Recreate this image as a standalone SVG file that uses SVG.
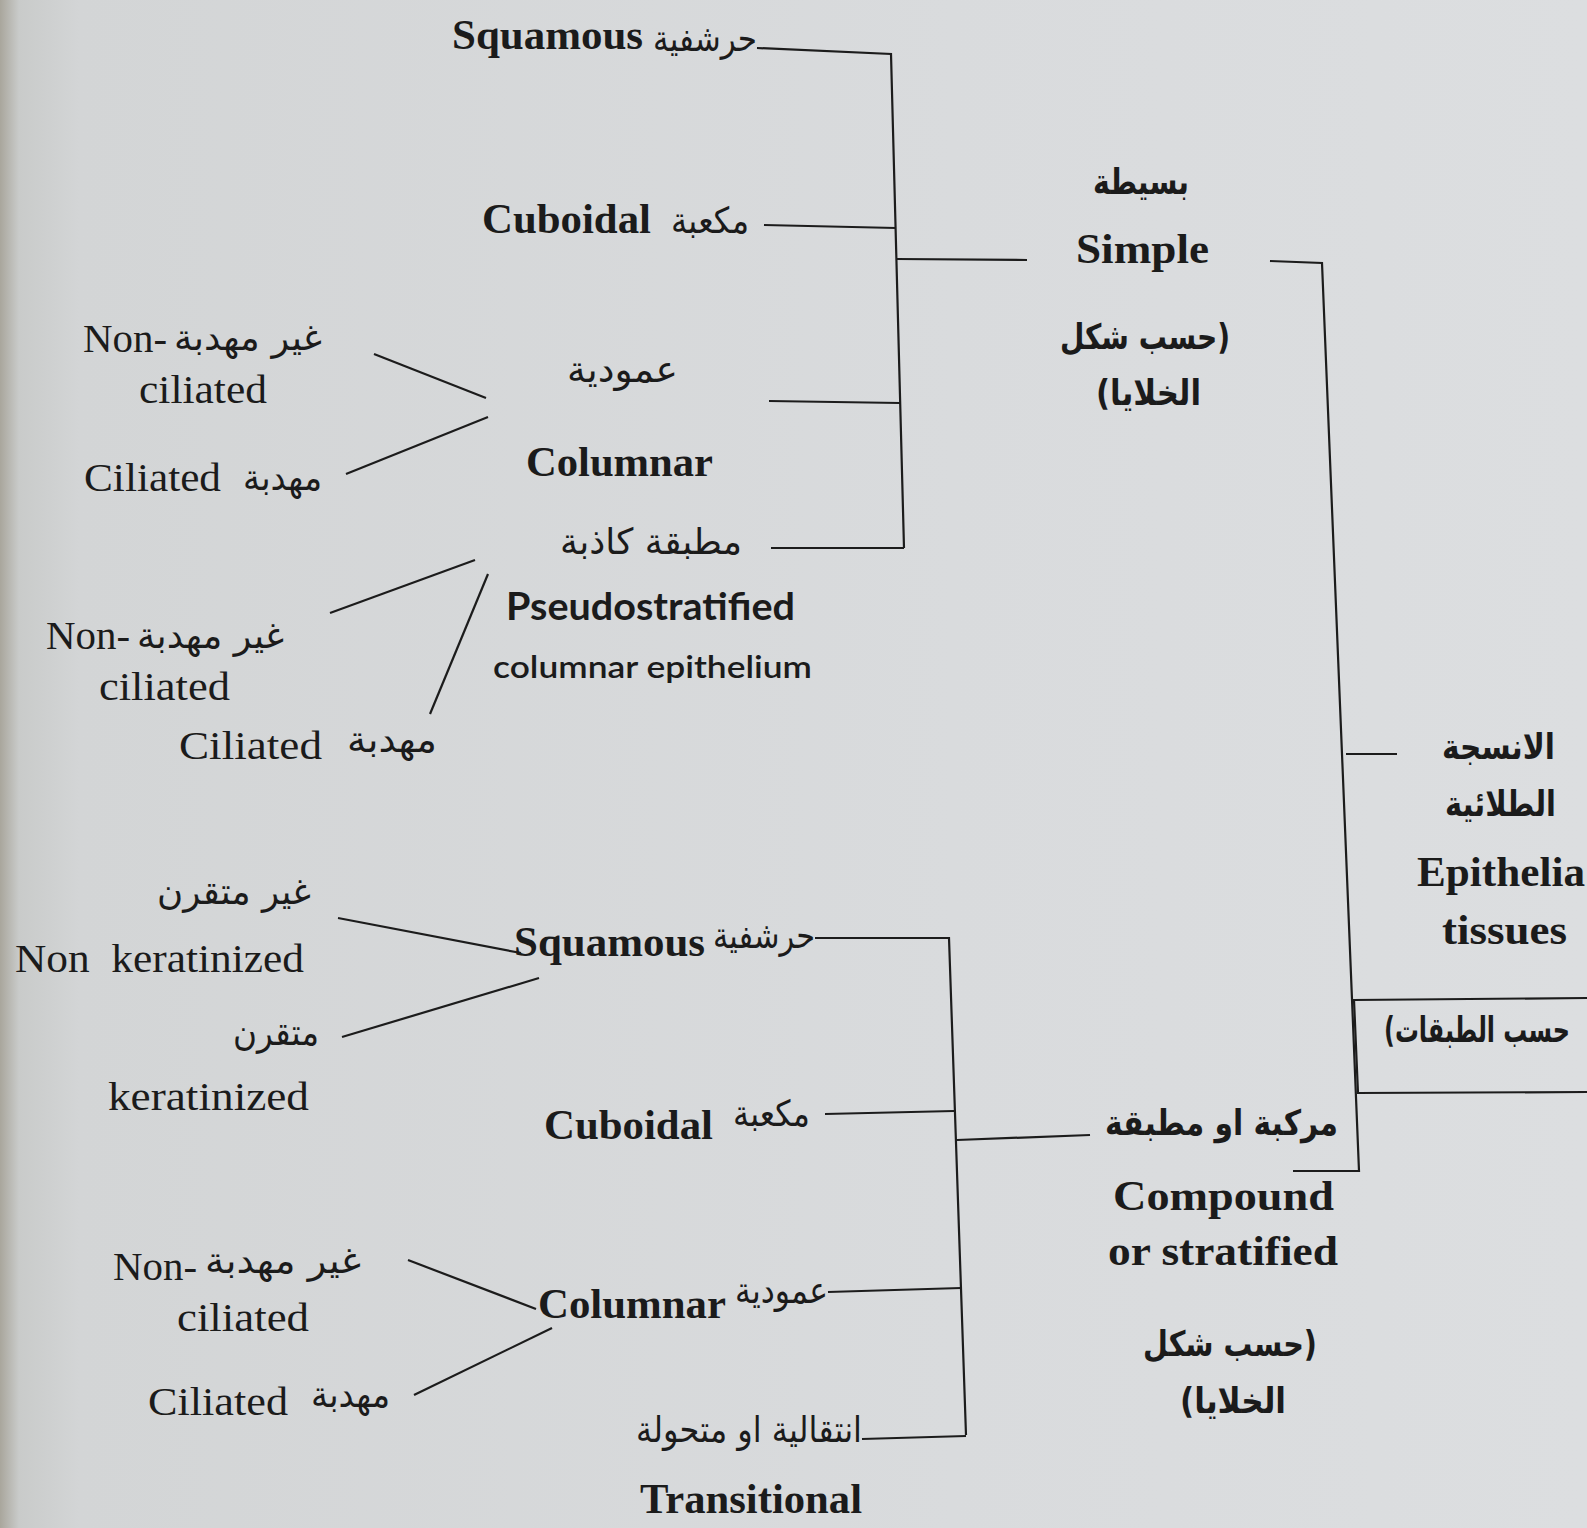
<svg xmlns="http://www.w3.org/2000/svg" width="1587" height="1528" viewBox="0 0 1587 1528">
<defs>
<linearGradient id="paper" x1="0" y1="0" x2="1" y2="0">
<stop offset="0" stop-color="#a9a69c"/>
<stop offset="0.012" stop-color="#c9cbca"/>
<stop offset="0.05" stop-color="#d3d5d6"/>
<stop offset="0.6" stop-color="#d9dbdd"/>
<stop offset="1" stop-color="#dcdee0"/>
</linearGradient>
<style>
text{fill:#1b1b1b}
.eb{font-family:"Liberation Serif",serif;font-weight:700;font-size:43px}
.en{font-family:"Liberation Serif",serif;font-size:41px}
.ar{font-family:"DejaVu Sans",sans-serif;font-size:36px}
.arb{font-family:"DejaVu Sans",sans-serif;font-weight:700;font-size:35px}
.sb{font-family:Lato,"Liberation Sans",sans-serif;font-weight:700;font-size:38px}
.sr{font-family:Lato,"Liberation Sans",sans-serif;font-weight:600;font-size:31px}
.ln{stroke:#1c1c1c;stroke-width:2.2;fill:none}
</style>
</defs>
<rect width="1587" height="1528" fill="url(#paper)"/>

<g id="connectors" class="ln">
<path d="M757,48 L891,54 L904,548"/>
<path d="M764,225 L896,228"/>
<path d="M897,259 L1027,260"/>
<path d="M769,401 L900,403"/>
<path d="M771,548 L904,548"/>
<path d="M374,354 L486,398"/>
<path d="M346,474 L488,417"/>
<path d="M330,613 L475,560"/>
<path d="M430,714 L488,574"/>
<path d="M1270,261 L1322,263 L1359,1171 L1293,1171"/>
<path d="M1346,754 L1397,754"/>
<path d="M338,918 L521,953"/>
<path d="M342,1037 L539,978"/>
<path d="M815,938 L949,938 L966,1435"/>
<path d="M825,1114 L954,1111"/>
<path d="M957,1140 L1090,1135"/>
<path d="M828,1292 L961,1288"/>
<path d="M862,1439 L966,1436"/>
<path d="M408,1260 L536,1309"/>
<path d="M414,1395 L552,1328"/>
</g>

<g id="layers-box" class="ln">
<path d="M1587,998 L1354,1000 L1358,1093 L1587,1092"/>
</g>

<g id="squamous-simple">
<text class="eb" x="452" y="49" textLength="191" lengthAdjust="spacingAndGlyphs">Squamous</text>
<text class="ar" x="653" y="51" textLength="104" lengthAdjust="spacingAndGlyphs">حرشفية</text>
</g>
<g id="cuboidal-simple">
<text class="eb" x="482" y="233" textLength="169" lengthAdjust="spacingAndGlyphs">Cuboidal</text>
<text class="ar" x="671" y="233" textLength="78" lengthAdjust="spacingAndGlyphs">مكعبة</text>
</g>
<g id="columnar-simple">
<text class="ar" x="567" y="382" textLength="111" lengthAdjust="spacingAndGlyphs">عمودية</text>
<text class="eb" x="526" y="476" textLength="187" lengthAdjust="spacingAndGlyphs">Columnar</text>
</g>
<g id="pseudostratified">
<text class="ar" x="560" y="554" textLength="182" lengthAdjust="spacingAndGlyphs">مطبقة كاذبة</text>
<text class="sb" x="506" y="620" textLength="289" lengthAdjust="spacingAndGlyphs">Pseudostratified</text>
<text class="sr" x="493" y="678" textLength="319" lengthAdjust="spacingAndGlyphs">columnar epithelium</text>
</g>

<g id="nonciliated-1">
<text class="en" x="83" y="352" textLength="84" lengthAdjust="spacingAndGlyphs">Non-</text>
<text class="ar" x="174" y="350" textLength="148" lengthAdjust="spacingAndGlyphs">غير مهدبة</text>
<text class="en" x="139" y="403" textLength="128" lengthAdjust="spacingAndGlyphs">ciliated</text>
</g>
<g id="ciliated-1">
<text class="en" x="84" y="491" textLength="137" lengthAdjust="spacingAndGlyphs">Ciliated</text>
<text class="ar" x="243" y="490" textLength="79" lengthAdjust="spacingAndGlyphs">مهدبة</text>
</g>
<g id="nonciliated-2">
<text class="en" x="46" y="649" textLength="84" lengthAdjust="spacingAndGlyphs">Non-</text>
<text class="ar" x="137" y="648" textLength="147" lengthAdjust="spacingAndGlyphs">غير مهدبة</text>
<text class="en" x="99" y="700" textLength="131" lengthAdjust="spacingAndGlyphs">ciliated</text>
</g>
<g id="ciliated-2">
<text class="en" x="179" y="759" textLength="143" lengthAdjust="spacingAndGlyphs">Ciliated</text>
<text class="ar" x="347" y="752" textLength="90" lengthAdjust="spacingAndGlyphs">مهدبة</text>
</g>

<g id="simple">
<text class="arb" x="1093" y="194" textLength="96" lengthAdjust="spacingAndGlyphs">بسيطة</text>
<text class="eb" x="1076" y="263" font-size="45" textLength="133" lengthAdjust="spacingAndGlyphs">Simple</text>
<text class="arb" x="1060" y="349" textLength="170" lengthAdjust="spacingAndGlyphs">&#x200F;(حسب شكل</text>
<text class="arb" x="1096" y="405" textLength="105" lengthAdjust="spacingAndGlyphs">الخلايا)&#x200F;</text>
</g>

<g id="epithelial-tissues">
<text class="arb" x="1442" y="759" textLength="113" lengthAdjust="spacingAndGlyphs">الانسجة</text>
<text class="arb" x="1445" y="816" textLength="111" lengthAdjust="spacingAndGlyphs">الطلائية</text>
<text class="eb" x="1417" y="886" textLength="168" lengthAdjust="spacingAndGlyphs">Epithelia</text>
<text class="eb" x="1442" y="944" textLength="125" lengthAdjust="spacingAndGlyphs">tissues</text>
</g>
<g id="by-layers">
<text class="arb" x="1384" y="1042" textLength="186" lengthAdjust="spacingAndGlyphs">حسب الطبقات)&#x200F;</text>
</g>

<g id="compound">
<text class="arb" x="1105" y="1135" textLength="233" lengthAdjust="spacingAndGlyphs">مركبة او مطبقة</text>
<text class="eb" x="1113" y="1210" textLength="221" lengthAdjust="spacingAndGlyphs">Compound</text>
<text class="eb" x="1108" y="1265" textLength="230" lengthAdjust="spacingAndGlyphs">or stratified</text>
<text class="arb" x="1143" y="1356" textLength="174" lengthAdjust="spacingAndGlyphs">&#x200F;(حسب شكل</text>
<text class="arb" x="1180" y="1413" textLength="106" lengthAdjust="spacingAndGlyphs">الخلايا)&#x200F;</text>
</g>

<g id="squamous-compound">
<text class="eb" x="514" y="956" textLength="191" lengthAdjust="spacingAndGlyphs">Squamous</text>
<text class="ar" x="713" y="948" textLength="102" lengthAdjust="spacingAndGlyphs">حرشفية</text>
</g>
<g id="non-keratinized">
<text class="ar" x="157" y="904" textLength="154" lengthAdjust="spacingAndGlyphs">غير متقرن</text>
<text class="en" x="15" y="972" textLength="289" lengthAdjust="spacingAndGlyphs" xml:space="preserve">Non  keratinized</text>
</g>
<g id="keratinized">
<text class="ar" x="233" y="1045" textLength="86" lengthAdjust="spacingAndGlyphs">متقرن</text>
<text class="en" x="108" y="1110" textLength="201" lengthAdjust="spacingAndGlyphs">keratinized</text>
</g>
<g id="cuboidal-compound">
<text class="eb" x="544" y="1139" textLength="169" lengthAdjust="spacingAndGlyphs">Cuboidal</text>
<text class="ar" x="733" y="1126" textLength="77" lengthAdjust="spacingAndGlyphs">مكعبة</text>
</g>
<g id="columnar-compound">
<text class="eb" x="538" y="1318" textLength="188" lengthAdjust="spacingAndGlyphs">Columnar</text>
<text class="ar" x="735" y="1303" textLength="93" lengthAdjust="spacingAndGlyphs">عمودية</text>
</g>
<g id="nonciliated-3">
<text class="en" x="113" y="1280" textLength="84" lengthAdjust="spacingAndGlyphs">Non-</text>
<text class="ar" x="205" y="1273" textLength="156" lengthAdjust="spacingAndGlyphs">غير مهدبة</text>
<text class="en" x="177" y="1331" textLength="132" lengthAdjust="spacingAndGlyphs">ciliated</text>
</g>
<g id="ciliated-3">
<text class="en" x="148" y="1415" textLength="140" lengthAdjust="spacingAndGlyphs">Ciliated</text>
<text class="ar" x="311" y="1407" textLength="79" lengthAdjust="spacingAndGlyphs">مهدبة</text>
</g>
<g id="transitional">
<text class="ar" x="636" y="1442" textLength="226" lengthAdjust="spacingAndGlyphs">انتقالية او متحولة</text>
<text class="eb" x="640" y="1513" textLength="222" lengthAdjust="spacingAndGlyphs">Transitional</text>
</g>
</svg>
